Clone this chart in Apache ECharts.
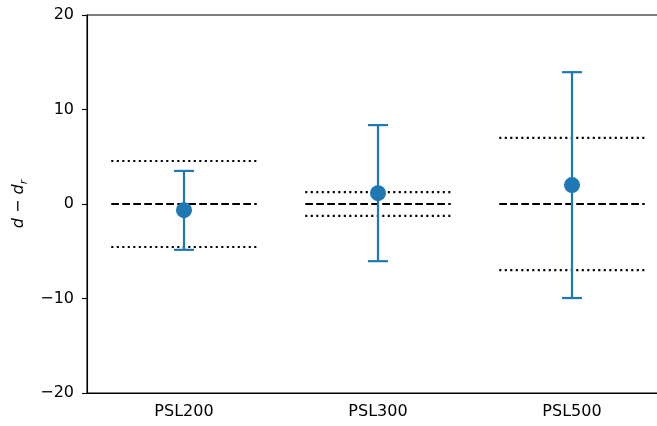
<!DOCTYPE html>
<html>
<head>
<meta charset="utf-8">
<script src="https://cdn.jsdelivr.net/npm/echarts@6/dist/echarts.min.js"></script>
<style>html,body{margin:0;padding:0;background:#fff}#c{width:657px;height:426px}</style>
</head>
<body>
<div id="c"></div>
<script>
const categories = ['PSL200', 'PSL300', 'PSL500'];
const means = [-0.65, 1.15, 2.0];
const errLow = [-4.85, -6.05, -9.95];
const errHigh = [3.5, 8.35, 13.95];
const bands = [4.55, 1.25, 7.0];
const yTicks = [-20, -10, 0, 10, 20];

const chart = echarts.init(document.getElementById('c'));
const blue = '#1f77b4';

const refData = categories.map((c, i) => [i, bands[i]]);
const errData = categories.map((c, i) => [i, means[i], errLow[i], errHigh[i]]);
const meanData = categories.map((c, i) => [i, means[i]]);

chart.setOption({
  animation: false,
  grid: { left: 87, width: 582, top: 15, height: 378, show: true, borderColor: '#000', borderWidth: 1.1,
          containLabel: false, outerBoundsMode: 'none' },
  xAxis: {
    type: 'category', data: categories, boundaryGap: true,
    axisLine: { onZero: false, lineStyle: { color: '#000', width: 1.1 } },
    axisTick: { alignWithLabel: true, length: 5, lineStyle: { color: '#000', width: 1.1 } },
    axisLabel: { color: '#000', fontSize: 16, fontFamily: 'DejaVu Sans', margin: 11 },
    splitLine: { show: false }
  },
  yAxis: {
    type: 'value', min: yTicks[0], max: yTicks[yTicks.length - 1], interval: 10,
    axisLine: { show: true, onZero: false, lineStyle: { color: '#000', width: 1.1 } },
    axisTick: { show: true, length: 5, lineStyle: { color: '#000', width: 1.1 } },
    axisLabel: { color: '#000', fontSize: 16, fontFamily: 'DejaVu Sans', margin: 13,
      formatter: v => String(v).replace('-', '\u2212') },
    splitLine: { show: false },
    name: '{i|d} \u2212 {i|d}{s|r}',
    nameLocation: 'middle', nameRotate: 90, nameGap: 56,
    nameTextStyle: {
      color: '#000', fontSize: 16, fontFamily: 'DejaVu Sans',
      rich: {
        i: { fontStyle: 'italic', fontSize: 16, fontFamily: 'DejaVu Sans', color: '#000' },
        s: { fontStyle: 'italic', fontSize: 11, fontFamily: 'DejaVu Sans', color: '#000', verticalAlign: 'bottom', padding: [9, 0, 0, 0] }
      }
    }
  },
  series: [
    {
      type: 'custom', z: 1, data: refData,
      renderItem: function (params, api) {
        const i = api.value(0), b = api.value(1);
        const w = api.size([1, 0])[0] * 0.375;
        const c0 = api.coord([i, 0]);
        const cu = api.coord([i, b]);
        const cl = api.coord([i, -b]);
        const dotted = { stroke: '#000', lineWidth: 2.2, lineDash: [2.1, 3.4] };
        const dashed = { stroke: '#000', lineWidth: 1.8, lineDash: [7.7, 3.3] };
        return { type: 'group', children: [
          { type: 'line', shape: { x1: c0[0] - w, y1: c0[1], x2: c0[0] + w, y2: c0[1] }, style: dashed },
          { type: 'line', shape: { x1: cu[0] - w, y1: cu[1], x2: cu[0] + w, y2: cu[1] }, style: dotted },
          { type: 'line', shape: { x1: cl[0] - w, y1: cl[1], x2: cl[0] + w, y2: cl[1] }, style: dotted }
        ]};
      }
    },
    {
      type: 'custom', z: 2, data: errData,
      renderItem: function (params, api) {
        const i = api.value(0);
        const lo = api.coord([i, api.value(2)]);
        const hi = api.coord([i, api.value(3)]);
        const cap = 10;
        const st = { stroke: blue, lineWidth: 2.2 };
        return { type: 'group', children: [
          { type: 'line', shape: { x1: lo[0], y1: lo[1], x2: hi[0], y2: hi[1] }, style: st },
          { type: 'line', shape: { x1: lo[0] - cap, y1: lo[1], x2: lo[0] + cap, y2: lo[1] }, style: st },
          { type: 'line', shape: { x1: hi[0] - cap, y1: hi[1], x2: hi[0] + cap, y2: hi[1] }, style: st }
        ]};
      }
    },
    {
      type: 'scatter', z: 3, data: meanData, symbol: 'circle', symbolSize: 16,
      itemStyle: { color: blue, opacity: 1 }
    }
  ]
});
</script>
</body>
</html>
